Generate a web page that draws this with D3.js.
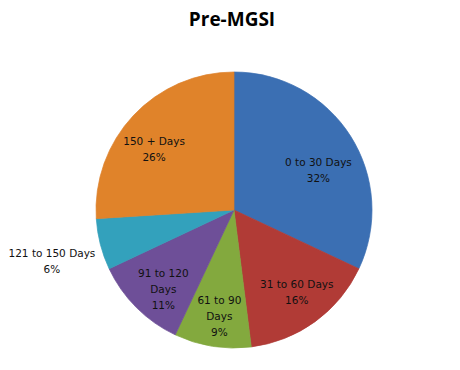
<!DOCTYPE html>
<html><head><meta charset="utf-8">
<script src="https://cdn.jsdelivr.net/npm/d3@7"></script>
<style>body{margin:0;background:#fff;}svg{display:block;}</style>
</head><body>
<svg id="c" width="460" height="370"></svg>
<script>
const categories = ["0 to 30 Days","31 to 60 Days","61 to 90 Days","91 to 120 Days","121 to 150 Days","150 + Days"];
const labelLines = [["0 to 30 Days"],["31 to 60 Days"],["61 to 90","Days"],["91 to 120","Days"],["121 to 150 Days"],["150 + Days"]];
const values = [32,16,9,11,6,26];
const colors = ["#4079C4","#C2403B","#8FB944","#7856A6","#38B0CD","#F58F2E"];
const title = "Pre-MGSI";

const svg = d3.select("#c");
const cx = 234, cy = 210, R = 138;

svg.append("text").attr("x",232).attr("y",26).attr("text-anchor","middle")
  .attr("font-family","'Open Sans', 'Liberation Sans', sans-serif").attr("font-weight","bold")
  .attr("font-size",19).attr("fill","#000").text(title);

const defs = svg.append("defs");
colors.forEach((c,i)=>{
  const g = defs.append("radialGradient").attr("id","g"+i)
    .attr("gradientUnits","userSpaceOnUse").attr("cx",cx).attr("cy",cy).attr("r",R);
  g.append("stop").attr("offset","0%").attr("stop-color",d3.color(c).brighter(0.2));
  g.append("stop").attr("offset","88%").attr("stop-color",c);
  g.append("stop").attr("offset","95%").attr("stop-color",d3.color(c).brighter(0.2));
  g.append("stop").attr("offset","100%").attr("stop-color",d3.color(c).darker(0.25));
});

const pie = d3.pie().sort(null).value(d=>d);
const arcs = pie(values);
const arc = d3.arc().innerRadius(0).outerRadius(R);
const g = svg.append("g").attr("transform",`translate(${cx},${cy})`);
g.selectAll("path").data(arcs).join("path")
  .attr("d",arc).attr("fill",(d,i)=>`url(#g${i})`)
  .attr("stroke",(d,i)=>d3.color(colors[i]).darker(0.3)).attr("stroke-width",0.7);

// label placement (layout only): centroid plus small nudges matching the reference
const labelArc = d3.arc().innerRadius(100).outerRadius(100);
const outArc = d3.arc().innerRadius(188).outerRadius(188);
const nudge = [[0,14],[4,1],[1,7],[0,8],[0,4],[-7,7]];
const lh = 16;
arcs.forEach((d,i)=>{
  const lines = labelLines[i].concat([values[i]+"%"]);
  let [x,y] = (values[i] < 8 ? outArc : labelArc).centroid(d);
  x += nudge[i][0]; y += nudge[i][1];
  const t = g.append("text").attr("text-anchor","middle")
    .attr("font-family","'DejaVu Sans', Verdana, sans-serif").attr("font-size",10.5).attr("fill","#111");
  const y0 = y - (lines.length-1)*lh/2 + 4;
  lines.forEach((s,k)=>t.append("tspan").attr("x",x).attr("y",y0+k*lh).text(s));
});
</script>
</body></html>
